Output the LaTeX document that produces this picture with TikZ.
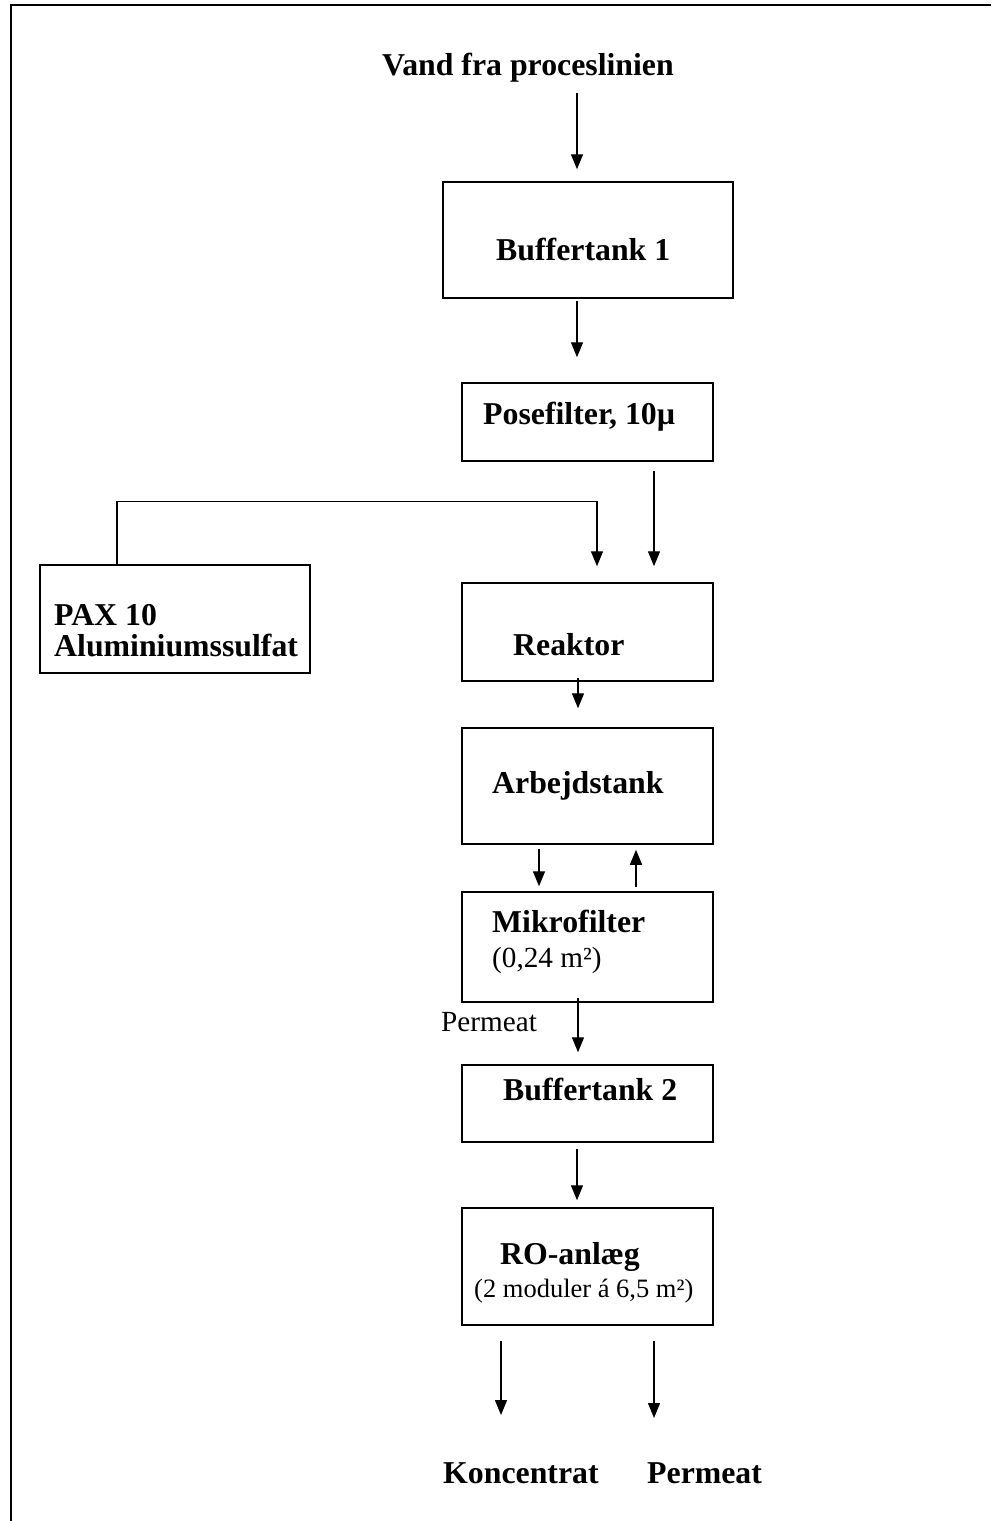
\documentclass[tikz,border=0pt]{standalone}
\usepackage{fontspec}
\setmainfont{Liberation Serif}
\usetikzlibrary{arrows.meta,calc}
\tikzset{
  boxnode/.style={draw, line width=1.5pt, inner sep=0, minimum width=251pt},
  lbl/.style={inner sep=0, anchor=base west, font=\bfseries\fontsize{31.8}{34}\selectfont},
  sublbl/.style={inner sep=0, anchor=base west, font=\fontsize{29.2}{32}\selectfont},
  smalllbl/.style={inner sep=0, anchor=base west, font=\fontsize{26.5}{30}\selectfont},
  arr/.style={line width=1.4pt, -{Triangle[width=12pt,length=15pt]}},
  conn/.style={line width=1.4pt}
}
\begin{document}
\begin{tikzpicture}[x=1pt,y=-1pt]
\useasboundingbox (0,0) rectangle (991,1521);
% frame
\draw[line width=2pt] (11,1521) -- (11,5) -- (991,5);
% boxes
\node[boxnode, minimum width=290pt, minimum height=116pt] (buf1) at (588,240) {};
\node[boxnode, minimum height=78pt] (pose) at (587.5,422) {};
\node[boxnode, minimum width=270pt, minimum height=108pt] (pax) at (175,619) {};
\node[boxnode, minimum height=98pt] (reak) at (587.5,632) {};
\node[boxnode, minimum height=116pt] (arb) at (587.5,786) {};
\node[boxnode, minimum height=110pt] (mikro) at (587.5,947) {};
\node[boxnode, minimum height=77pt] (buf2) at (587.5,1103.5) {};
\node[boxnode, minimum height=117pt] (ro) at (587.5,1266.5) {};
% texts
\node[lbl] (title) at (382,75) {Vand fra proceslinien};
\node[lbl] (buf1t) at (496,260) {Buffertank 1};
\node[lbl] (poset) at (483,424) {Posefilter, 10µ};
\node[lbl] (paxa) at (54,625) {PAX 10};
\node[lbl] (paxb) at (54,656) {Aluminiumssulfat};
\node[lbl] (reakt) at (513,655) {Reaktor};
\node[lbl] (arbt) at (492,793) {Arbejdstank};
\node[lbl] (mikrot) at (492,932) {Mikrofilter};
\node[sublbl] (mikros) at (492,967) {(0,24 m²)};
\node[sublbl] (permlbl) at (441,1031) {Permeat};
\node[lbl] (buf2t) at (503,1100) {Buffertank 2};
\node[lbl] (rot) at (500,1264) {RO-anlæg};
\node[smalllbl] (ros) at (474,1297) {(2 moduler á 6,5 m²)};
\node[lbl] (konc) at (443,1483) {Koncentrat};
\node[lbl] (perm) at (647,1483) {Permeat};
% connectors
\draw[arr] ($(title.base -| buf1.north)+(-11,18)$) -- ($(buf1.north)+(-11,-12)$);
\draw[arr] ($(buf1.south)+(-11,2)$) -- ($(pose.north)+(-10.5,-25)$);
\draw[arr] ($(pose.south)+(66.5,9)$) -- ($(reak.north)+(66.5,-16)$);
\draw[arr] ($(pax.north)+(-58,0)$) |- ($(reak.north)+(9.5,-81)$) -- ($(reak.north)+(9.5,-16)$);
\draw[arr] ($(reak.south)+(-9.5,-4)$) -- ($(arb.north)+(-9.5,-19)$);
\draw[arr] ($(arb.south)+(-48.5,4)$) -- ($(mikro.north)+(-48.5,-5)$);
\draw[arr] ($(mikro.north)+(48.5,-4)$) -- ($(arb.south)+(48.5,5)$);
\draw[arr] ($(mikro.south)+(-9.5,-5)$) -- ($(buf2.north)+(-9.5,-12)$);
\draw[arr] ($(buf2.south)+(-10.5,6)$) -- ($(ro.north)+(-10.5,-7)$);
\draw[arr] ($(ro.south)+(-86.5,15)$) -- ($(konc.base -| ro.south)+(-86.5,-68)$);
\draw[arr] ($(ro.south)+(66.5,15)$) -- ($(perm.base -| ro.south)+(66.5,-65)$);
\end{tikzpicture}
\end{document}
